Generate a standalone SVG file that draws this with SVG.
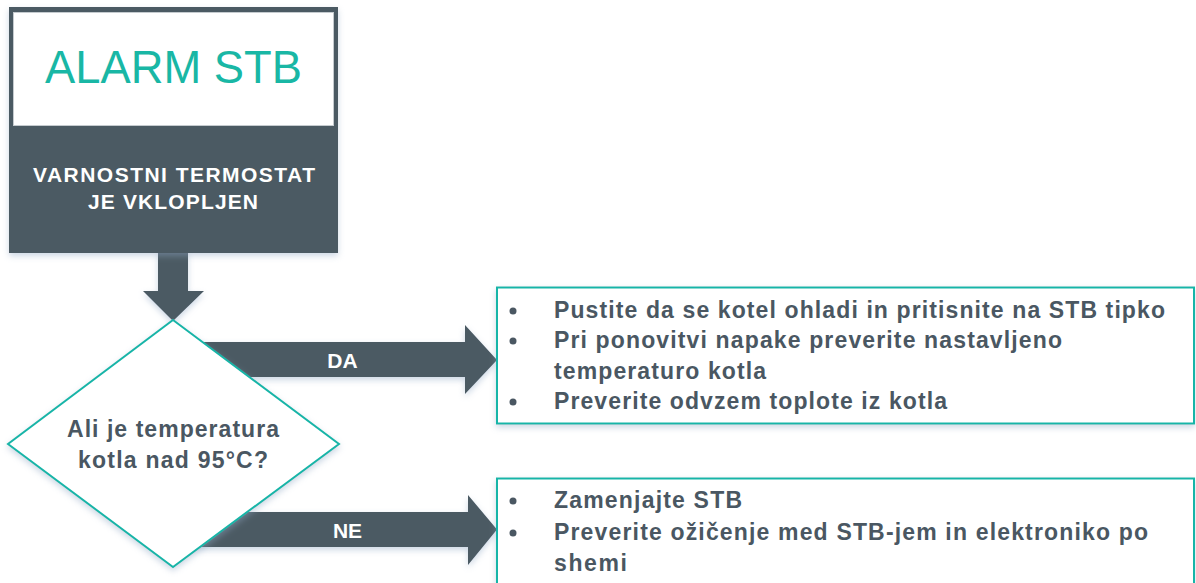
<svg xmlns="http://www.w3.org/2000/svg" width="1196" height="583" viewBox="0 0 1196 583">
<defs>
<filter id="sh" x="-10%" y="-10%" width="120%" height="130%">
<feDropShadow dx="0" dy="3" stdDeviation="3" flood-color="#8fa8c4" flood-opacity="0.45"/>
</filter>
<style>
.dark{fill:#4b5a64}
.teal{fill:#ffffff;stroke:#19b5a8;stroke-width:2}
.t{font-family:"Liberation Sans",Arial,sans-serif;font-weight:bold;fill:#4a5762}
.w{font-family:"Liberation Sans",Arial,sans-serif;font-weight:bold;fill:#ffffff}
.b{font-size:23px}
</style>
</defs>
<rect width="1196" height="583" fill="#ffffff"/>
<g id="connectors">
<polygon class="dark" filter="url(#sh)" points="158,250 188,250 188,291 204,291 173,321 143,291 158,291"/>
<polygon class="dark" filter="url(#sh)" points="173,342 465,342 465,325 497,360 465,394 465,377 173,377"/>
<polygon class="dark" filter="url(#sh)" points="173,512 468,512 468,495 497,529.5 468,565 468,547 173,547"/>
<text class="w" x="342.5" y="368" font-size="21" text-anchor="middle">DA</text>
<text class="w" x="347.5" y="538" font-size="21" text-anchor="middle">NE</text>
</g>
<g id="alarm">
<rect x="9" y="7" width="329" height="246" class="dark" filter="url(#sh)"/>
<rect x="13.5" y="12.5" width="320" height="113" fill="#ffffff" stroke="#c5cbcf" stroke-width="1"/>
<text x="173.5" y="83" text-anchor="middle" font-family="'Liberation Sans',Arial,sans-serif" font-size="46" fill="#19b7a5" textLength="257" lengthAdjust="spacingAndGlyphs">ALARM STB</text>
<text class="w" x="174" y="182" font-size="21" text-anchor="middle" textLength="282" lengthAdjust="spacing">VARNOSTNI TERMOSTAT</text>
<text class="w" x="173" y="209" font-size="21" text-anchor="middle" textLength="170" lengthAdjust="spacing">JE VKLOPLJEN</text>
</g>
<g id="decision">
<polygon class="teal" filter="url(#sh)" points="173,320 339,444 173,567 8,444"/>
<text class="t b" x="173" y="437" text-anchor="middle" textLength="212" lengthAdjust="spacing">Ali je temperatura</text>
<text class="t b" x="173" y="468" text-anchor="middle" textLength="190" lengthAdjust="spacing">kotla nad 95°C?</text>
</g>
<g id="da-box">
<rect x="497" y="287.5" width="697" height="136" class="teal" filter="url(#sh)"/>
<g class="t b">
<circle cx="513" cy="311" r="3.5" fill="#4a5762"/>
<circle cx="513" cy="341" r="3.5" fill="#4a5762"/>
<circle cx="513" cy="402" r="3.5" fill="#4a5762"/>
<text x="554" y="318" textLength="611" lengthAdjust="spacing">Pustite da se kotel ohladi in pritisnite na STB tipko</text>
<text x="554" y="348" textLength="508" lengthAdjust="spacing">Pri ponovitvi napake preverite nastavljeno</text>
<text x="554" y="379" textLength="212" lengthAdjust="spacing">temperaturo kotla</text>
<text x="554" y="409" textLength="393" lengthAdjust="spacing">Preverite odvzem toplote iz kotla</text>
</g>
</g>
<g id="ne-box">
<rect x="497" y="478.5" width="697" height="130" class="teal" filter="url(#sh)"/>
<g class="t b">
<circle cx="513" cy="501" r="3.5" fill="#4a5762"/>
<circle cx="513" cy="533" r="3.5" fill="#4a5762"/>
<text x="554" y="508" textLength="188" lengthAdjust="spacing">Zamenjajte STB</text>
<text x="554" y="540" textLength="594" lengthAdjust="spacing">Preverite ožičenje med STB-jem in elektroniko po</text>
<text x="554" y="571" textLength="73" lengthAdjust="spacing">shemi</text>
</g>
</g>
</svg>
